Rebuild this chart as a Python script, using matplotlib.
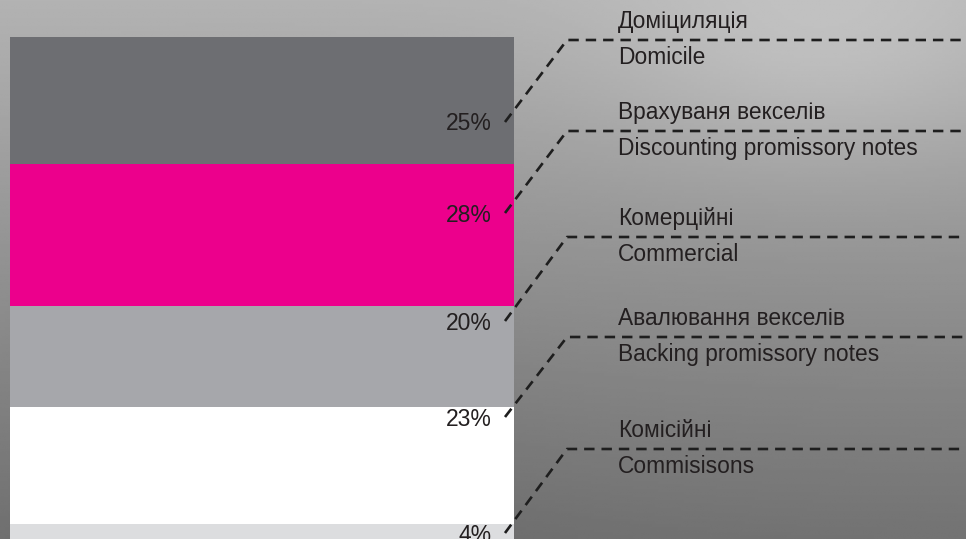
import numpy as np
import matplotlib
matplotlib.use('Agg')
import matplotlib.pyplot as plt

# shares of fee income (percent), top to bottom
categories_ua = ['Доміциляція', 'Врахуваня векселів', 'Комерційні',
                 'Авалювання векселів', 'Комісійні']
categories_en = ['Domicile', 'Discounting promissory notes', 'Commercial',
                 'Backing promissory notes', 'Commisisons']
shares = [25, 28, 20, 23, 4]
share_labels = ['25%', '28%', '20%', '23%', '4%']

colors = ['#6d6e72', '#ec008c', '#a6a7ab', '#ffffff', '#dcdddf']
label_y = [124, 215, 323, 419, 535]    # pixel rows of the % labels
line_y = [40, 131, 237, 337, 449]      # pixel rows of the dashed leaders

W, H = 966, 539
plt.rcParams['lines.scale_dashes'] = False
fig = plt.figure(figsize=(W / 100, H / 100), dpi=100)

# background: grey photo-like gradient
bg = fig.add_axes([0, 0, 1, 1])
yy, xx = np.mgrid[0:1:200j, 0:1:300j]
shade = 0.70 - 0.25 * yy + 0.07 * np.exp(-((xx - 0.85) ** 2 + (yy - 0.1) ** 2) / 0.05)
shade -= 0.03 * np.exp(-((xx - 0.3) ** 2) / 0.1) * yy
bg.imshow(shade, cmap='gray', vmin=0, vmax=1, extent=[0, W, H, 0], aspect='auto',
          interpolation='bilinear')
bg.set_xlim(0, W)
bg.set_ylim(H, 0)
bg.axis('off')

# stacked bar in percent units: 100% = 507 px, starting at pixel row 37
scale = 5.07
ax = fig.add_axes([0, 0, 1, 1])
ax.patch.set_alpha(0)
ax.set_xlim(0, W)
ax.set_ylim((H - 37) / scale, -37 / scale)
bottoms = np.concatenate([[0], np.cumsum(shares)[:-1]])
ax.bar(262, shares, bottom=bottoms, width=504, color=colors, linewidth=0)
ax.axis('off')

# overlay in pixel coordinates for leaders and texts
ov = fig.add_axes([0, 0, 1, 1])
ov.patch.set_alpha(0)
ov.set_xlim(0, W)
ov.set_ylim(H, 0)
ov.axis('off')

txt_color = '#231f20'
for i in range(len(shares)):
    ov.text(492, label_y[i], share_labels[i], fontsize=16.5, family='Liberation Sans',
            color=txt_color, ha='right', va='center')
    ov.plot([505, 567, W + 5], [label_y[i] - 2, line_y[i], line_y[i]],
            color='#1e1e1e', lw=1.9, linestyle=(0, (7.5, 5)),
            solid_capstyle='butt', dash_capstyle='butt')
    ov.text(618, line_y[i] - 12, categories_ua[i], fontsize=16.4,
            family='Liberation Sans', color=txt_color, va='baseline')
    ov.text(618, line_y[i] + 24, categories_en[i], fontsize=16.4,
            family='Liberation Sans', color=txt_color, va='baseline')

fig.savefig('out.png', dpi=100)
